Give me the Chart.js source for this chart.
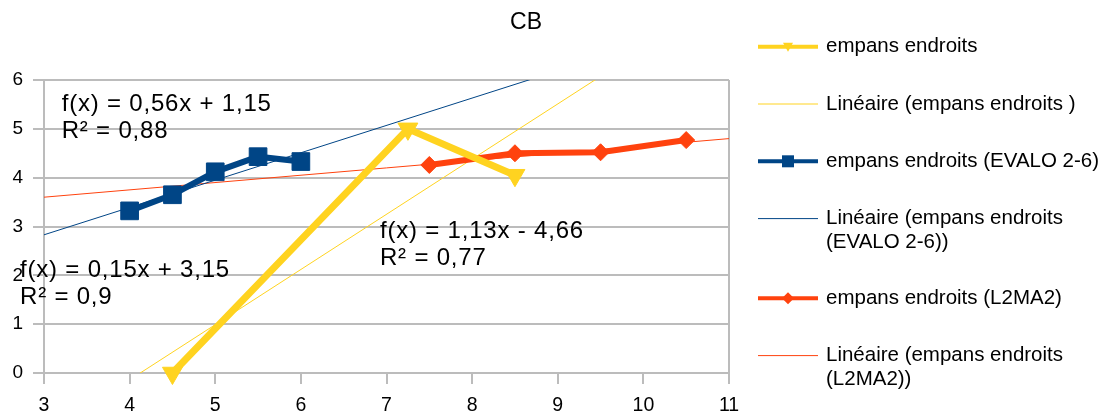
<!DOCTYPE html>
<html>
<head>
<meta charset="UTF-8">
<title>CB</title>
<script src="https://cdn.jsdelivr.net/npm/chart.js"></script>
<style>
  html, body { margin: 0; padding: 0; background: #fff; }
  #cb { display: block; }
</style>
</head>
<body>
<canvas id="cb" width="1106" height="412"></canvas>
<script>
// values
const chartTitle = 'CB';
const endroitsX = [4.5, 7.25, 8.5];
const endroitsY = [0, 5, 4.05];
const evaloX = [4, 4.5, 5, 5.5, 6];
const evaloY = [3.32, 3.65, 4.12, 4.43, 4.33];
const l2ma2X = [7.5, 8.5, 9.5, 10.5];
const l2ma2Y = [4.26, 4.5, 4.52, 4.77];

// linear trend lines as printed on the chart
const trendSlope = [1.13, 0.56, 0.15];
const trendIntercept = [-4.66, 1.15, 3.15];
const trendEquations = [
    ['f(x) = 1,13x - 4,66', 'R² = 0,77'],
    ['f(x) = 0,56x + 1,15', 'R² = 0,88'],
    ['f(x) = 0,15x + 3,15', 'R² = 0,9']
];

const seriesLabels = ['empans endroits', 'empans endroits (EVALO 2-6)', 'empans endroits (L2MA2)'];
const trendLabels = ['Linéaire (empans endroits )', 'Linéaire (empans endroits\n(EVALO 2-6))', 'Linéaire (empans endroits\n(L2MA2))'];
const xMin = 3, xMax = 11, yMin = 0, yMax = 6;

const colors = ['#ffd320', '#004586', '#ff420e'];
const FONT = '"Liberation Sans", Arial, sans-serif';
const GRID = '#bcbcbc';

function pts(xs, ys) {
    return xs.map((x, i) => ({ x: x, y: ys[i] }));
}

function trendPts(i) {
    return [xMin, xMax].map(x => ({ x: x, y: trendSlope[i] * x + trendIntercept[i] }));
}

const seriesData = [pts(endroitsX, endroitsY), pts(evaloX, evaloY), pts(l2ma2X, l2ma2Y)];
const markers = [
    { style: 'triangle', rotation: 180, radius: 11.5, width: 7 },
    { style: 'rect', rotation: 0, radius: 12.5, width: 6 },
    { style: 'rectRot', rotation: 0, radius: 8.5, width: 6 }
];

const datasets = [];
for (let i = 0; i < 3; i++) {
    datasets.push({
        label: seriesLabels[i],
        data: seriesData[i],
        borderColor: colors[i],
        backgroundColor: colors[i],
        borderWidth: markers[i].width,
        pointStyle: markers[i].style,
        rotation: markers[i].rotation,
        pointRadius: markers[i].radius,
        pointBorderWidth: 1,
        clip: false,
        order: 0
    });
    datasets.push({
        label: trendLabels[i],
        data: trendPts(i),
        borderColor: colors[i],
        borderWidth: 1,
        pointRadius: 0,
        clip: 0,
        order: 1
    });
}

// where the equation boxes sit (data units, baseline of first line)
const eqAnchors = [{ x: 6.924, y: 2.758 }, { x: 3.207, y: 5.365 }, { x: 2.72, y: 1.972 }];

const extras = {
    id: 'extras',
    afterDraw(chart) {
        const ctx = chart.ctx;
        const xs = chart.scales.x, ys = chart.scales.y;
        ctx.save();
        ctx.fillStyle = '#000';

        // title
        ctx.font = '23px ' + FONT;
        ctx.textAlign = 'center';
        ctx.textBaseline = 'middle';
        ctx.fillText(chartTitle, 526, 23);

        // trend equations
        ctx.font = '24px ' + FONT;
        ctx.letterSpacing = '0.8px';
        ctx.textAlign = 'left';
        ctx.textBaseline = 'alphabetic';
        trendEquations.forEach((lines, i) => {
            const px = xs.getPixelForValue(eqAnchors[i].x);
            const py = ys.getPixelForValue(eqAnchors[i].y);
            lines.forEach((t, k) => ctx.fillText(t, px, py + k * 27));
        });
        ctx.letterSpacing = '0px';

        // legend on the right
        const lx = chart.chartArea.right + 29;
        let ly = 46.7;
        ctx.font = '20.5px ' + FONT;
        ctx.textBaseline = 'middle';
        chart.data.datasets.forEach((ds, i) => {
            const lines = ds.label.split('\n');
            ctx.strokeStyle = ds.borderColor;
            ctx.lineWidth = ds.borderWidth > 1 ? 4 : 1;
            ctx.beginPath();
            ctx.moveTo(lx, ly);
            ctx.lineTo(lx + 60, ly);
            ctx.stroke();
            if (ds.pointRadius > 0) {
                const cx = lx + 30;
                ctx.fillStyle = ds.borderColor;
                ctx.beginPath();
                if (ds.pointStyle === 'triangle') {
                    ctx.moveTo(cx - 5, ly - 4);
                    ctx.lineTo(cx + 5, ly - 4);
                    ctx.lineTo(cx, ly + 5);
                } else if (ds.pointStyle === 'rect') {
                    ctx.rect(cx - 6, ly - 6, 12, 12);
                } else {
                    ctx.moveTo(cx, ly - 6);
                    ctx.lineTo(cx + 6, ly);
                    ctx.lineTo(cx, ly + 6);
                    ctx.lineTo(cx - 6, ly);
                }
                ctx.closePath();
                ctx.fill();
            }
            ctx.fillStyle = '#000';
            lines.forEach((t, k) => ctx.fillText(t, lx + 68, ly + k * 23.7));
            ly += 57.3 + (lines.length - 1) * 22.4;
        });
        ctx.restore();
    }
};

new Chart('cb', {
    type: 'line',
    data: { datasets: datasets },
    options: {
        responsive: false,
        animation: false,
        layout: { padding: { left: 0, right: 377, top: 80, bottom: 0 } },
        plugins: {
            legend: { display: false },
            title: { display: false },
            tooltip: { enabled: false }
        },
        scales: {
            x: {
                type: 'linear',
                min: xMin,
                max: xMax,
                ticks: { stepSize: 1, color: '#000', font: { family: FONT, size: 19.5 }, padding: 10 },
                grid: {
                    color: c => (c.tick && c.tick.value === xMax) ? GRID : 'rgba(0,0,0,0)',
                    tickColor: GRID,
                    tickLength: 11,
                    lineWidth: 2
                },
                border: { color: GRID, width: 2 },
                afterFit: s => { s.height = 39; }
            },
            y: {
                min: yMin,
                max: yMax,
                ticks: { stepSize: 1, color: '#000', font: { family: FONT, size: 19 }, padding: 10 },
                grid: { color: GRID, tickColor: GRID, tickLength: 11, lineWidth: 2 },
                border: { color: GRID, width: 2 },
                afterFit: s => { s.width = 44; }
            }
        }
    },
    plugins: [extras]
});
</script>
</body>
</html>
